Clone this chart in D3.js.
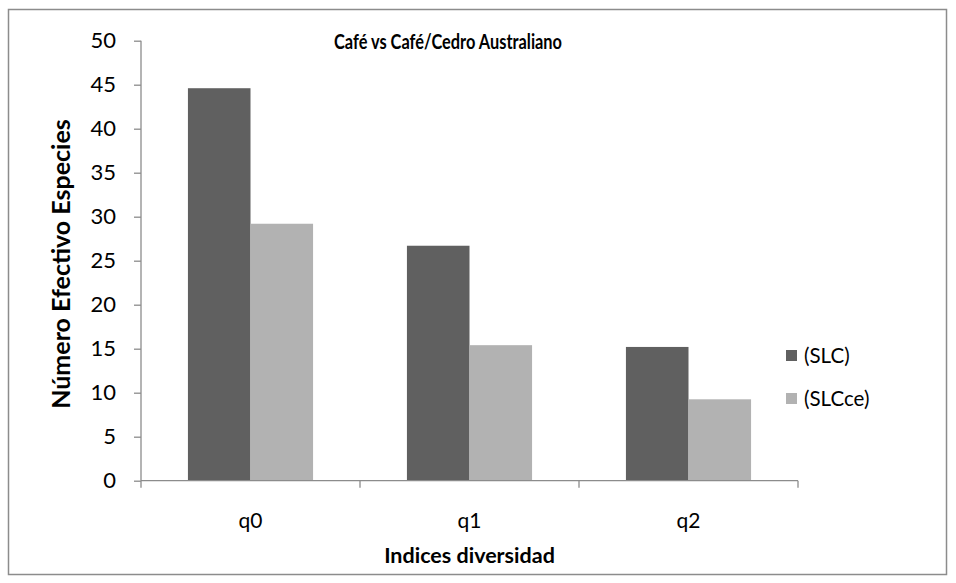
<!DOCTYPE html>
<html>
<head>
<meta charset="utf-8">
<script src="https://cdn.jsdelivr.net/npm/d3@7"></script>
<style>
  body { margin: 0; background: #fff; }
  svg text { font-family: Lato, "Open Sans", sans-serif; fill: #000; }
</style>
</head>
<body>
<div id="chart"></div>
<script>
// data
const categories = ['q0', 'q1', 'q2'];
const seriesNames = ['(SLC)', '(SLCce)'];
const slcValues = [44.6, 26.7, 15.2];
const slcceValues = [29.2, 15.4, 9.25];
const yTicks = [0, 5, 10, 15, 20, 25, 30, 35, 40, 45, 50];
const seriesColors = ['#606060', '#b2b2b2'];

const width = 956, height = 583;
const margin = { left: 141, right: 158, top: 40.7, bottom: 102.3 };
const plotW = width - margin.left - margin.right;
const plotH = height - margin.top - margin.bottom;

const svg = d3.select('#chart').append('svg')
    .attr('width', width)
    .attr('height', height);

// outer chart frame
svg.append('rect')
    .attr('x', 8.5).attr('y', 9.5)
    .attr('width', 938).attr('height', 565)
    .attr('fill', 'none')
    .attr('stroke', '#8c8c8c')
    .attr('stroke-width', 1.5);

const g = svg.append('g')
    .attr('transform', `translate(${margin.left},${margin.top})`);

const x0 = d3.scaleBand()
    .domain(categories)
    .range([0, plotW])
    .paddingInner(0)
    .paddingOuter(0);

// Excel style gap width 150%
const barW = x0.bandwidth() / 3.5;
const x1 = d3.scaleBand()
    .domain(seriesNames)
    .range([barW * 0.75, barW * 2.75]);

const y = d3.scaleLinear()
    .domain([0, 50])
    .range([plotH, 0]);

// bars
const rows = categories.map((c, i) => ({ cat: c, values: [slcValues[i], slcceValues[i]] }));

const groups = g.selectAll('g.cat')
    .data(rows)
    .join('g')
    .attr('class', 'cat')
    .attr('transform', d => `translate(${x0(d.cat)},0)`);

groups.selectAll('rect')
    .data(d => d.values.map((v, i) => ({ name: seriesNames[i], value: v, idx: i })))
    .join('rect')
    .attr('x', d => x1(d.name))
    .attr('width', x1.bandwidth())
    .attr('y', d => y(d.value))
    .attr('height', d => y(0) - y(d.value))
    .attr('fill', d => seriesColors[d.idx]);

// y axis
const yAxis = g.append('g')
    .call(d3.axisLeft(y).tickValues(yTicks).tickSize(7).tickPadding(18));
yAxis.select('.domain').attr('stroke', '#8c8c8c').attr('stroke-width', 1.3)
    .attr('d', `M0,${y(50)}V${y(0)}`);
yAxis.selectAll('.tick line').attr('stroke', '#8c8c8c').attr('stroke-width', 1.3);
yAxis.selectAll('.tick text').style('font-size', '22px');

// x axis with ticks at category boundaries
const xAxis = g.append('g')
    .attr('transform', `translate(0,${plotH})`);
xAxis.append('line')
    .attr('x1', 0).attr('x2', plotW)
    .attr('stroke', '#8c8c8c').attr('stroke-width', 1.3);
const bounds = categories.map(c => x0(c)).concat([plotW]);
xAxis.selectAll('line.tk')
    .data(bounds)
    .join('line')
    .attr('class', 'tk')
    .attr('x1', d => d).attr('x2', d => d)
    .attr('y1', 0).attr('y2', 7)
    .attr('stroke', '#8c8c8c').attr('stroke-width', 1.3);
xAxis.selectAll('text')
    .data(categories)
    .join('text')
    .attr('x', d => x0(d) + x0.bandwidth() / 2)
    .attr('y', 47)
    .attr('text-anchor', 'middle')
    .style('font-size', '21px')
    .text(d => d);

// titles
svg.append('text')
    .attr('x', 334).attr('y', 49)
    .attr('textLength', 228)
    .attr('lengthAdjust', 'spacingAndGlyphs')
    .style('font-size', '20px')
    .style('font-weight', 'bold')
    .text('Café vs Café/Cedro Australiano');

svg.append('text')
    .attr('transform', `translate(70,264) rotate(-90)`)
    .attr('text-anchor', 'middle')
    .style('font-size', '25px')
    .style('font-weight', 'bold')
    .text('Número Efectivo Especies');

svg.append('text')
    .attr('x', margin.left + plotW / 2).attr('y', 563)
    .attr('text-anchor', 'middle')
    .style('font-size', '21.5px')
    .style('font-weight', 'bold')
    .text('Indices diversidad');

// legend
const legend = svg.append('g')
    .attr('transform', 'translate(786,350)');
const li = legend.selectAll('g')
    .data(seriesNames)
    .join('g')
    .attr('transform', (d, i) => `translate(0,${i * 43})`);
li.append('rect')
    .attr('width', 11).attr('height', 11)
    .attr('fill', (d, i) => seriesColors[i]);
li.append('text')
    .attr('x', 18).attr('y', 12.5)
    .style('font-size', '20.5px')
    .text(d => d);
</script>
</body>
</html>
